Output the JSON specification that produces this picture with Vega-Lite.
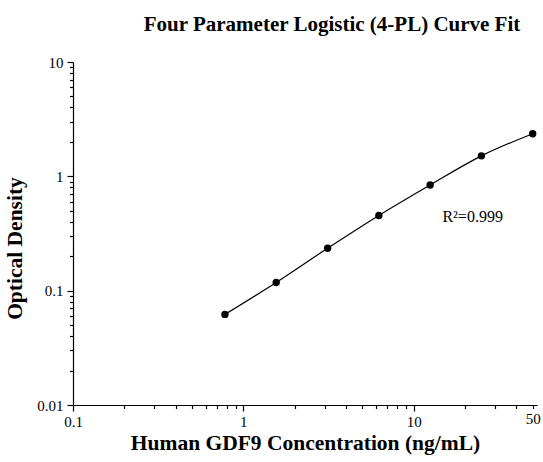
{
  "$schema": "https://vega.github.io/schema/vega-lite/v6.json",
  "width": 464,
  "height": 343,
  "autosize": "none",
  "padding": {"left": 73, "top": 62, "right": 6, "bottom": 57},
  "background": "white",
  "title": {
    "text": "Four Parameter Logistic (4-PL) Curve Fit",
    "font": "Liberation Serif",
    "fontSize": 21,
    "fontWeight": "bold",
    "color": "black",
    "anchor": "middle",
    "offset": 20,
    "dx": 27
  },
  "config": {
    "view": {"stroke": null},
    "axis": {
      "grid": false,
      "domainColor": "black",
      "domainWidth": 1.2,
      "tickColor": "black",
      "tickWidth": 1.2,
      "labelFont": "Liberation Serif",
      "labelFontSize": 15,
      "labelColor": "black",
      "titleFont": "Liberation Serif",
      "titleFontSize": 21.5,
      "titleFontWeight": "bold",
      "titleColor": "black"
    }
  },
  "data": {
    "values": [
      {"conc": 0.78, "od": 0.062, "label": ""},
      {"conc": 1.56, "od": 0.118, "label": ""},
      {"conc": 3.125, "od": 0.235, "label": ""},
      {"conc": 6.25, "od": 0.455, "label": ""},
      {"conc": 12.5, "od": 0.84, "label": ""},
      {"conc": 25, "od": 1.51, "label": ""},
      {"conc": 50, "od": 2.36, "label": ""}
    ]
  },
  "encoding": {
    "x": {
      "field": "conc",
      "type": "quantitative",
      "scale": {"type": "log", "domain": [0.1, 53], "nice": false},
      "axis": {
        "title": "Human GDF9 Concentration (ng/mL)",
        "titlePadding": 3,
        "values": [0.1,0.2,0.3,0.4,0.5,0.6,0.7,0.8,0.9,1,2,3,4,5,6,7,8,9,10,20,30,40,50],
        "labelExpr": "indexof([0.1,1,10,50], datum.value) >= 0 ? datum.label : ''",
        "tickSize": {"condition": {"test": "indexof([0.1,1,10], datum.value) >= 0", "value": 6}, "value": 3.5},
        "labelPadding": 3,
        "labelFlush": false,
        "labelOverlap": false
      }
    },
    "y": {
      "field": "od",
      "type": "quantitative",
      "scale": {"type": "log", "domain": [0.01, 10], "nice": false},
      "axis": {
        "title": "Optical Density",
        "titlePadding": 10,
        "titleY": 186,
        "values": [0.01,0.02,0.03,0.04,0.05,0.06,0.07,0.08,0.09,0.1,0.2,0.3,0.4,0.5,0.6,0.7,0.8,0.9,1,2,3,4,5,6,7,8,9,10],
        "labelExpr": "indexof([0.01,0.1,1,10], datum.value) >= 0 ? datum.label : ''",
        "tickSize": {"condition": {"test": "indexof([0.01,0.1,1,10], datum.value) >= 0", "value": 6}, "value": 3.5},
        "labelPadding": 4,
        "labelFlush": false,
        "labelOverlap": false
      }
    }
  },
  "layer": [
    {
      "mark": {"type": "line", "interpolate": "monotone", "color": "black", "strokeWidth": 1.2}
    },
    {
      "mark": {"type": "point", "filled": true, "color": "black", "size": 55, "opacity": 1}
    },
    {
      "data": {"values": [{"conc": 14.75, "od": 0.40, "label": "R²=0.999"}]},
      "mark": {"type": "text", "align": "left", "baseline": "alphabetic", "font": "Liberation Serif", "fontSize": 16, "color": "black"},
      "encoding": {"text": {"field": "label"}}
    }
  ]
}
